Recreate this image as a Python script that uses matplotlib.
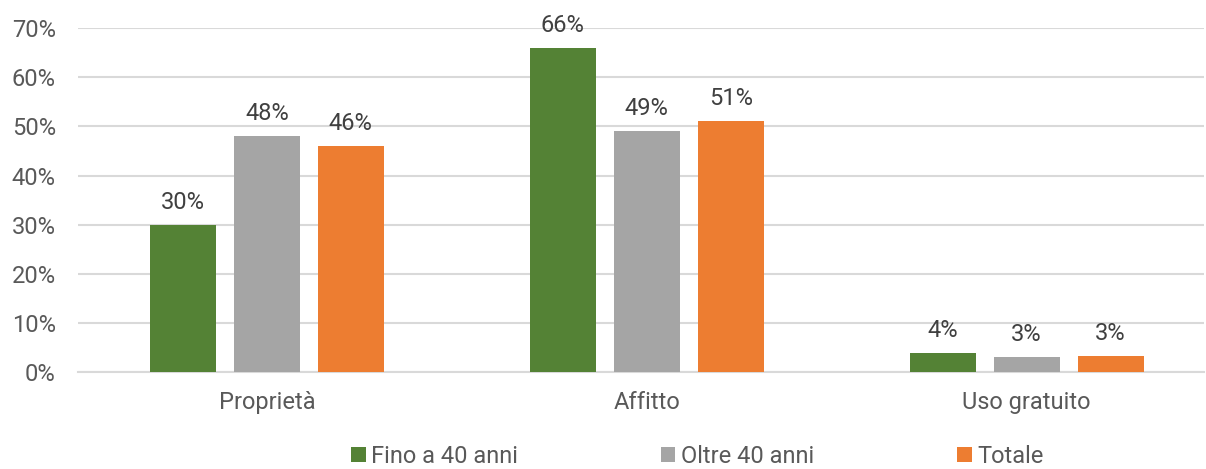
import matplotlib.pyplot as plt
import numpy as np
from matplotlib.ticker import PercentFormatter

plt.rcParams['font.family'] = ['Roboto', 'DejaVu Sans']

# Dati
categorie = ['Proprietà', 'Affitto', 'Uso gratuito']
serie = ['Fino a 40 anni', 'Oltre 40 anni', 'Totale']
fino_40 = [0.30, 0.66, 0.039]
oltre_40 = [0.48, 0.49, 0.030]
totale = [0.46, 0.51, 0.032]
colori = ['#548235', '#A5A5A5', '#ED7D31']

fs = 17
fig = plt.figure(figsize=(12.06, 4.69), dpi=100)
ax = fig.add_axes([0.0647, 0.2068, 0.934, 0.7332])

x = np.arange(len(categorie))
larghezza = 0.174
passo = 0.221
for i, (valori, nome) in enumerate(zip([fino_40, oltre_40, totale], serie)):
    barre = ax.bar(x + (i - 1) * passo, valori, width=larghezza, color=colori[i], label=nome, zorder=3)
    for b, v in zip(barre, valori):
        ax.annotate(f'{round(v * 100):.0f}%', (b.get_x() + b.get_width() / 2, v),
                    xytext=(0, 8), textcoords='offset points', ha='center', va='bottom',
                    fontsize=fs, color='#404040')

ax.set_xlim(-0.497, 2.468)
ax.set_ylim(0, 0.7)
ax.set_yticks(np.arange(0, 0.71, 0.1))
ax.yaxis.set_major_formatter(PercentFormatter(1.0, decimals=0))
ax.set_xticks(x)
ax.set_xticklabels(categorie)
ax.tick_params(axis='both', length=0, labelsize=fs, labelcolor='#595959')
ax.tick_params(axis='x', pad=14)
ax.tick_params(axis='y', pad=16)
ax.grid(axis='y', color='#D9D9D9', linewidth=1.5, zorder=0)
for s in ['top', 'right', 'left']:
    ax.spines[s].set_visible(False)
ax.spines['bottom'].set_color('#D9D9D9')
ax.spines['bottom'].set_linewidth(1.5)

fig.legend(loc='center', bbox_to_anchor=(0.5785, 0.026), ncol=3, frameon=False,
           fontsize=fs, labelcolor='#595959', handlelength=0.6, handleheight=0.6,
           handletextpad=0.25, columnspacing=6.05, borderpad=0.2)

fig.savefig('out.png', dpi=100)
